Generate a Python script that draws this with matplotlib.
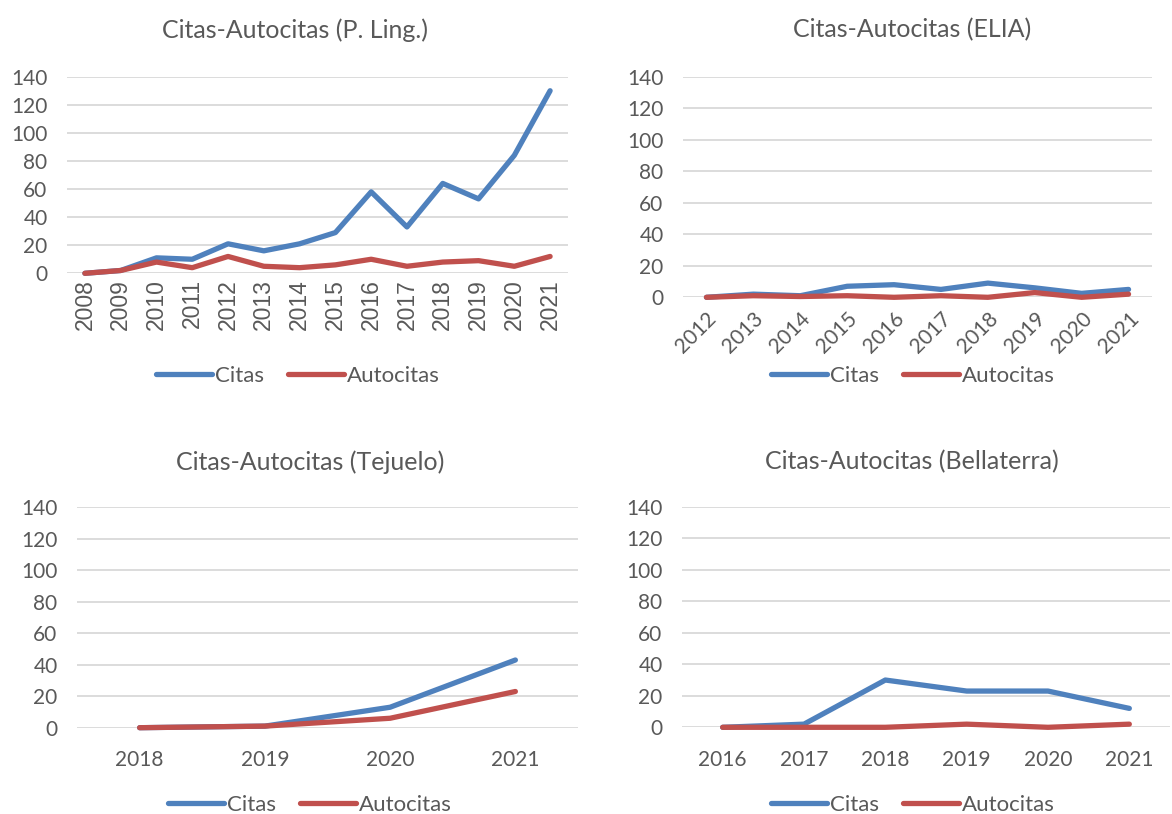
import matplotlib
matplotlib.use("Agg")
import matplotlib.pyplot as plt

# ---- data ----
years_ling = ["2008", "2009", "2010", "2011", "2012", "2013", "2014", "2015",
              "2016", "2017", "2018", "2019", "2020", "2021"]
citas_ling = [0, 2, 11, 10, 21, 16, 21, 29, 58, 33, 64, 53, 84, 130]
auto_ling = [0, 2, 8, 4, 12, 5, 4, 6, 10, 5, 8, 9, 5, 12]

years_elia = ["2012", "2013", "2014", "2015", "2016", "2017", "2018", "2019", "2020", "2021"]
citas_elia = [0, 2, 1, 7, 8, 5, 9, 6, 2.5, 5]
auto_elia = [0, 1, 0.5, 1, 0, 1, 0, 3, 0, 2]

years_tej = ["2018", "2019", "2020", "2021"]
citas_tej = [0, 1, 13, 43]
auto_tej = [0, 1, 6, 23]

years_bell = ["2016", "2017", "2018", "2019", "2020", "2021"]
citas_bell = [0, 2, 30, 23, 23, 12]
auto_bell = [0, 0, 0, 2, 0, 2]

titles = ["Citas-Autocitas (P. Ling.)", "Citas-Autocitas (ELIA)",
          "Citas-Autocitas (Tejuelo)", "Citas-Autocitas (Bellaterra)"]
series_names = ["Citas", "Autocitas"]
yticks = [0, 20, 40, 60, 80, 100, 120, 140]

BLUE = "#4F81BD"
RED = "#C0504D"
GRID = "#D9D9D9"
TXT = "#595959"

W, H = 1172, 814
fig = plt.figure(figsize=(W / 100, H / 100), dpi=100)
plt.rcParams["font.family"] = ["Lato", "DejaVu Sans"]


def axes_px(x0, x1, y0, y1):
    return fig.add_axes([x0 / W, 1 - y1 / H, (x1 - x0) / W, (y1 - y0) / H])


panels = [
    dict(box=(67, 568, 76.7, 273.3), years=years_ling, c=citas_ling, a=auto_ling,
         rot=90, title=(295, 30), leg=(298, 376)),
    dict(box=(683, 1152, 76.7, 297.3), years=years_elia, c=citas_elia, a=auto_elia,
         rot=45, title=(912, 30), leg=(913, 376)),
    dict(box=(77, 578, 507.3, 727.7), years=years_tej, c=citas_tej, a=auto_tej,
         rot=0, title=(310, 462), leg=(310, 805)),
    dict(box=(682, 1170, 506.7, 727.3), years=years_bell, c=citas_bell, a=auto_bell,
         rot=0, title=(912, 462), leg=(913, 805)),
]

for p, title in zip(panels, titles):
    ax = axes_px(*p["box"])
    n = len(p["years"])
    x = list(range(n))
    l1, = ax.plot(x, p["c"], color=BLUE, lw=3.8, solid_capstyle="round",
                  solid_joinstyle="round", clip_on=False, zorder=3)
    l2, = ax.plot(x, p["a"], color=RED, lw=3.8, solid_capstyle="round",
                  solid_joinstyle="round", clip_on=False, zorder=4)
    ax.set_xlim(-0.5, n - 0.5)
    ax.set_ylim(0, 140)
    ax.set_yticks(yticks)
    ax.set_xticks(x)
    for s in ax.spines.values():
        s.set_visible(False)
    ax.yaxis.grid(True, color=GRID, lw=1.3)
    ax.set_axisbelow(True)
    ax.tick_params(axis="y", length=0, pad=14, labelsize=15, labelcolor=TXT)
    if p["rot"] == 90:
        ax.set_xticklabels(p["years"], rotation=90, fontsize=16.5, color=TXT,
                           family=["Liberation Sans", "DejaVu Sans"])
        ax.tick_params(axis="x", length=0, pad=4)
    elif p["rot"] == 45:
        ax.set_xticklabels(p["years"], rotation=45, ha="right", rotation_mode="anchor",
                           fontsize=15, color=TXT)
        ax.tick_params(axis="x", length=0, pad=8)
    else:
        ax.set_xticklabels(p["years"], fontsize=15, color=TXT)
        ax.tick_params(axis="x", length=0, pad=16)
    fig.text(p["title"][0] / W, 1 - p["title"][1] / H, title, ha="center", va="center",
             fontsize=18, color=TXT)
    fig.legend([l1, l2], series_names, loc="center",
               bbox_to_anchor=(p["leg"][0] / W, 1 - p["leg"][1] / H),
               ncol=2, frameon=False, fontsize=16, labelcolor=TXT,
               handlelength=2.5, handletextpad=0.15, columnspacing=1.1)

fig.savefig("out.png", dpi=100, facecolor="white")
